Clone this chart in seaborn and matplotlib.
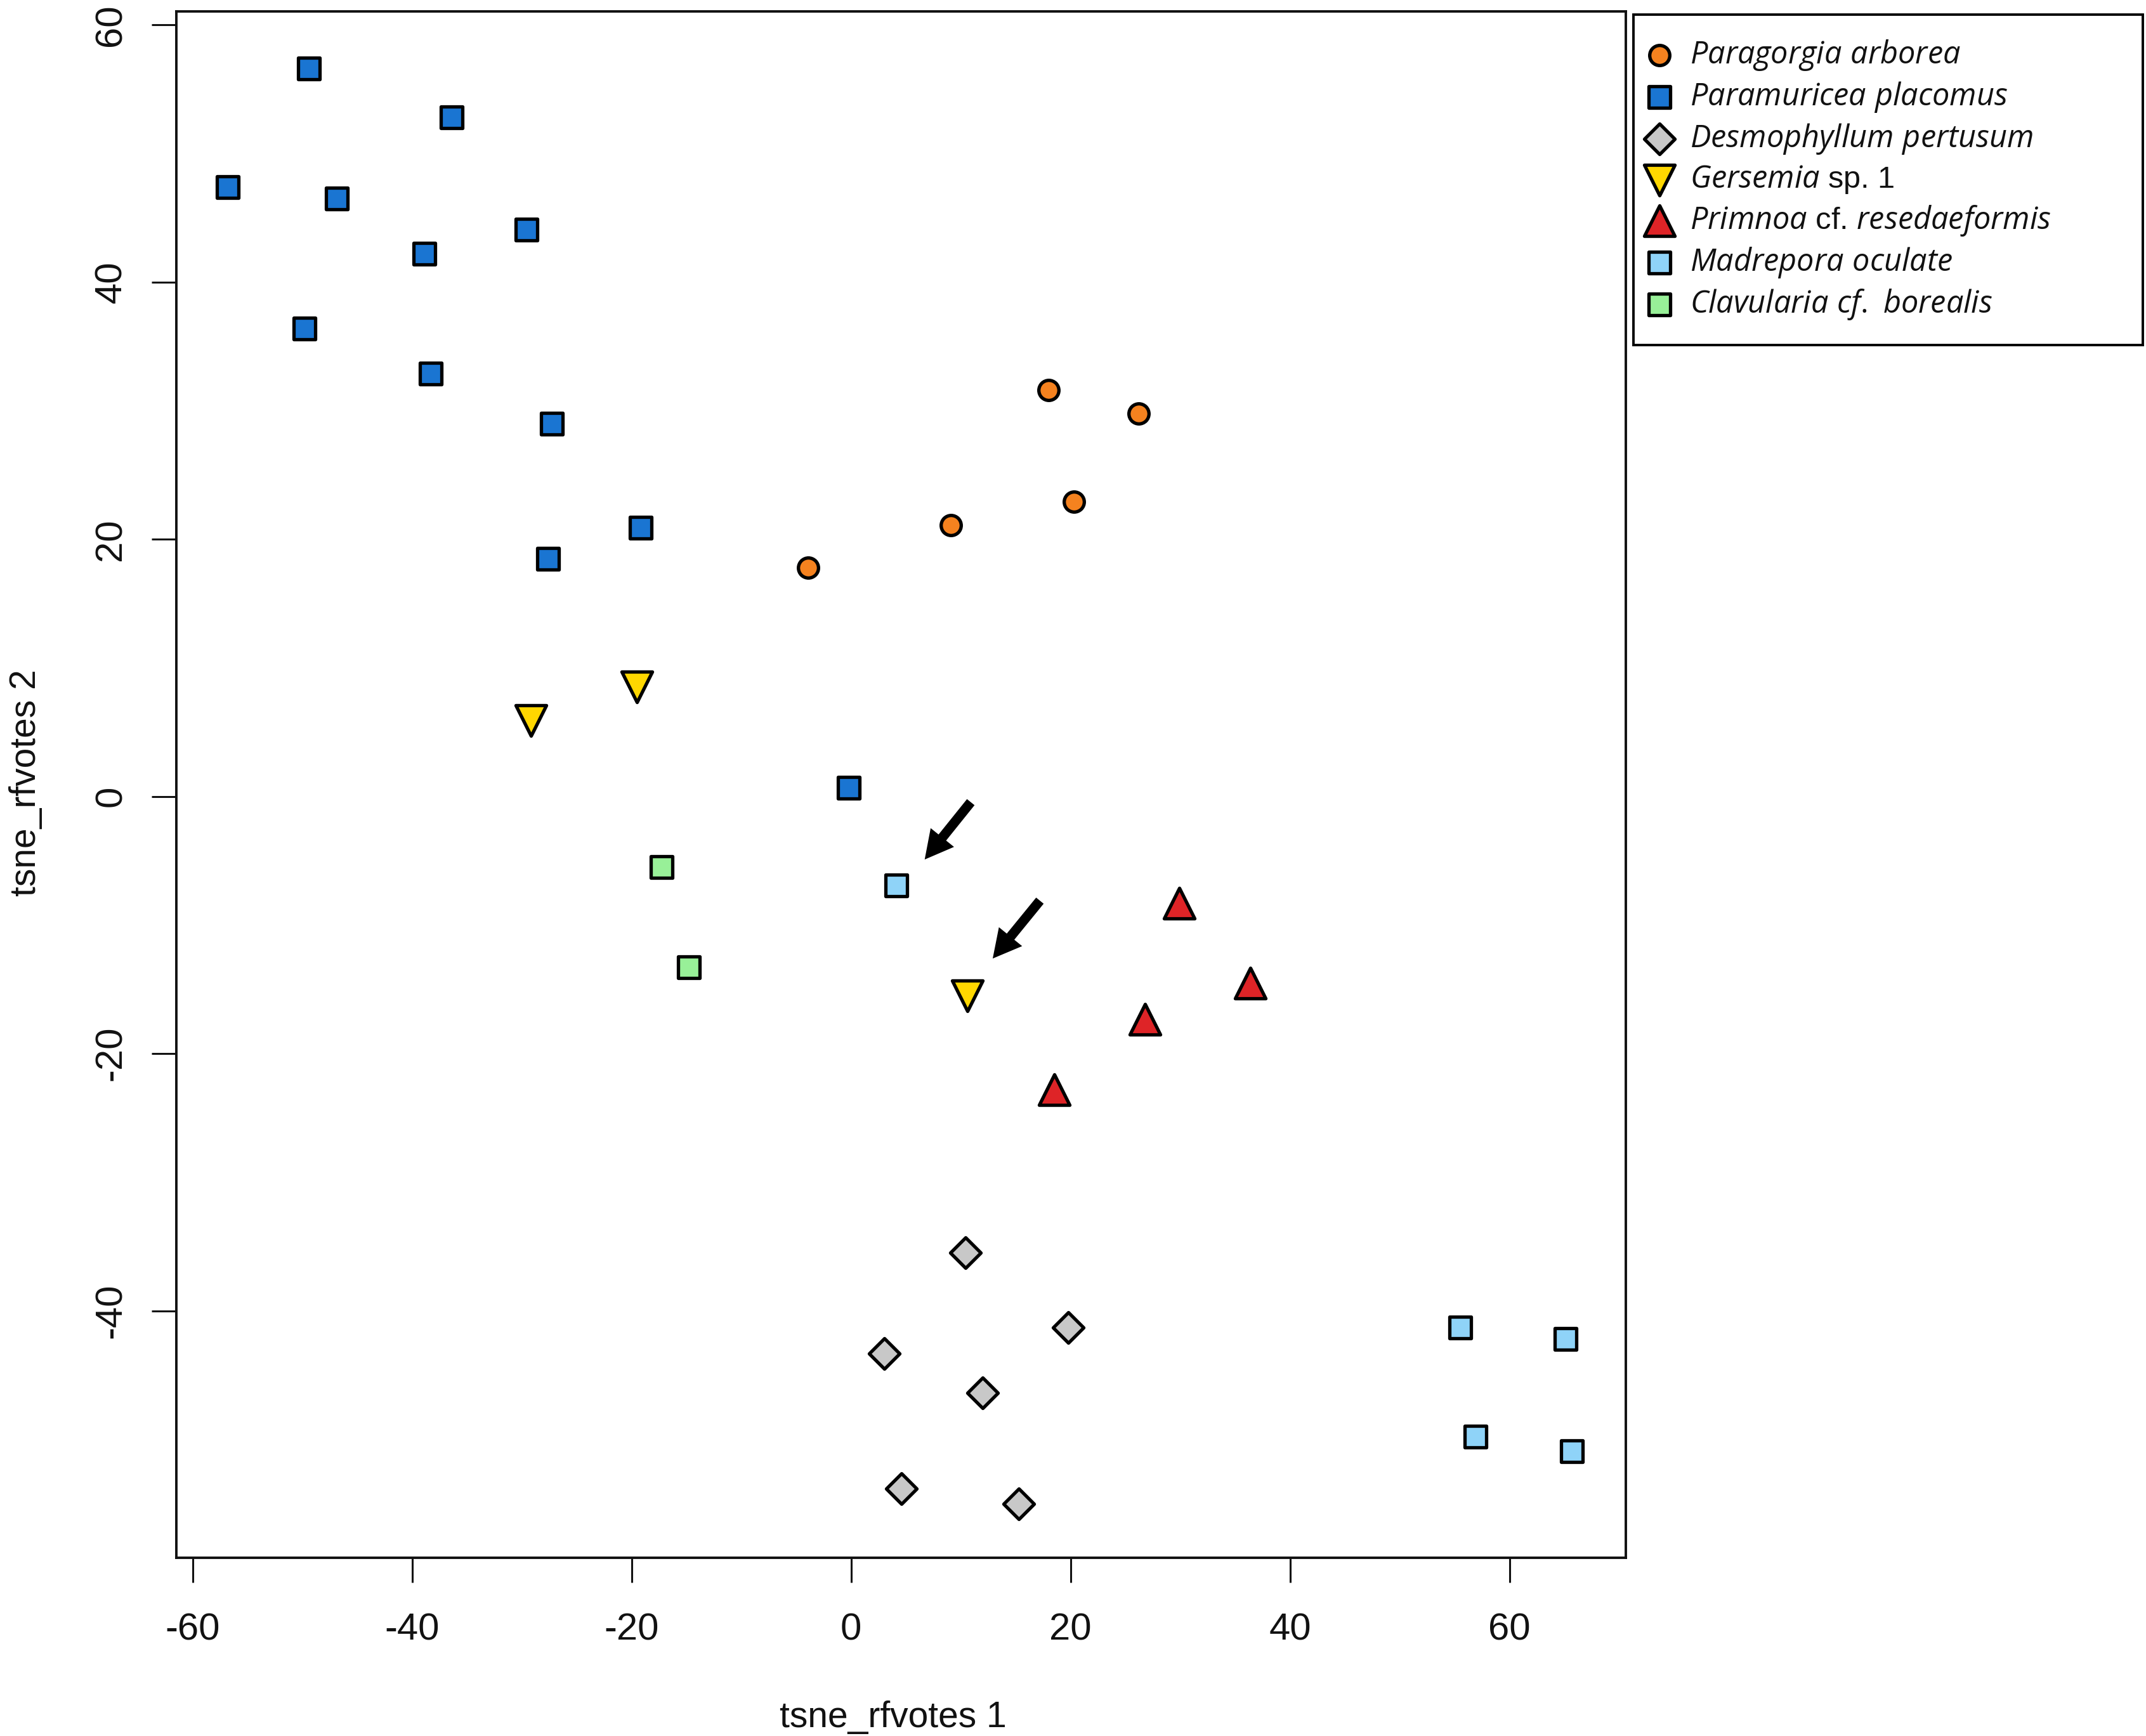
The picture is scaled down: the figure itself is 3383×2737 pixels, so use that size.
import matplotlib
matplotlib.use("Agg")
import matplotlib.pyplot as plt
import seaborn as sns

sns.set_theme(style="white")
plt.rcParams['font.family'] = ['Liberation Sans', 'DejaVu Sans']
plt.rcParams['axes.unicode_minus'] = False
plt.rcParams['mathtext.fontset'] = 'custom'
plt.rcParams['mathtext.it'] = 'Open Sans:italic'
plt.rcParams['mathtext.rm'] = 'Open Sans'

# values
paragorgia_x = [18.0, 26.2, 20.3, 9.1, -3.9]
paragorgia_y = [31.6, 29.8, 22.9, 21.1, 17.8]
paramuricea_x = [-49.4, -36.4, -56.8, -46.9, -29.6, -38.9, -49.8, -38.3, -27.3, -19.2, -27.6, -0.2]
paramuricea_y = [56.6, 52.8, 47.4, 46.5, 44.1, 42.2, 36.4, 32.9, 29.0, 20.9, 18.5, 0.7]
desmophyllum_x = [10.4, 19.8, 3.0, 12.0, 4.6, 15.3]
desmophyllum_y = [-35.5, -41.3, -43.3, -46.4, -53.8, -55.0]
gersemia_x = [-19.5, -29.2, 10.6]
gersemia_y = [8.5, 5.9, -15.5]
primnoa_x = [29.9, 36.4, 26.8, 18.5]
primnoa_y = [-8.3, -14.5, -17.3, -22.8]
madrepora_x = [4.1, 55.5, 65.1, 56.9, 65.7]
madrepora_y = [-6.9, -41.3, -42.2, -49.8, -50.9]
clavularia_x = [-17.3, -14.8]
clavularia_y = [-5.5, -13.3]

x_ticks = [-60, -40, -20, 0, 20, 40, 60]
y_ticks = [-40, -20, 0, 20, 40, 60]

arrow_tails = [(10.9, -0.44), (17.2, -8.1)]
arrow_heads = [(6.7, -4.9), (12.9, -12.6)]

W, H = 3383, 2737
fig = plt.figure(figsize=(W / 200, H / 200), dpi=200, facecolor='white')
ax = fig.add_axes([278 / W, 1 - 2456 / H, (2563 - 278) / W, (2456 - 18) / H])

groups = [
    (paragorgia_x, paragorgia_y, r'$\mathit{Paragorgia\ arborea}$', 'o', 130, '#F5821F'),
    (paramuricea_x, paramuricea_y, r'$\mathit{Paramuricea\ placomus}$', 's', 150, '#1A75D2'),
    (desmophyllum_x, desmophyllum_y, r'$\mathit{Desmophyllum\ pertusum}$', 'D', 150, '#C8C8C8'),
    (gersemia_x, gersemia_y, r'$\mathit{Gersemia}$ sp. 1', 'v', 300, '#FFD700'),
    (primnoa_x, primnoa_y, r'$\mathit{Primnoa}$ cf. $\mathit{resedaeformis}$', '^', 300, '#DE2427'),
    (madrepora_x, madrepora_y, r'$\mathit{Madrepora\ oculate}$', 's', 150, '#8FD3F8'),
    (clavularia_x, clavularia_y, r'$\mathit{Clavularia\ cf.\ borealis}$', 's', 150, '#98F098'),
]
for xs, ys, name, mark, size, col in groups:
    sns.scatterplot(x=xs, y=ys, marker=mark, s=size, color=col, edgecolor='black',
                    linewidth=1.9, label=name, ax=ax, zorder=3, clip_on=False)

for tail, head in zip(arrow_tails, arrow_heads):
    ax.annotate('', xy=head, xytext=tail,
                arrowprops=dict(facecolor='black', edgecolor='black', width=5.5, headwidth=17,
                                headlength=16, shrink=0, linewidth=0))

ax.set_xlim(-61.5, 70.6)
ax.set_ylim(-59.2, 61.05)
ax.set_xticks(x_ticks)
ax.set_yticks(y_ticks)
ax.tick_params(axis='both', length=14, width=1.1, color='#111111', labelsize=21.5,
               labelcolor='#111111', bottom=True, left=True)
ax.tick_params(axis='x', pad=17)
ax.tick_params(axis='y', pad=13)
for t in ax.get_yticklabels():
    t.set_rotation(90)
    t.set_va('center')
for s in ax.spines.values():
    s.set_linewidth(1.4)
    s.set_color('#111111')

ax.set_xlabel('tsne_rfvotes 1', fontsize=20.5, color='#111111')
ax.set_ylabel('tsne_rfvotes 2', fontsize=20.5, color='#111111')
ax.xaxis.set_label_coords((1408 - 278) / (2563 - 278), -(2681 - 2456) / (2456 - 18))
ax.yaxis.set_label_coords(-(278 - 68) / (2563 - 278), (2456 - 1234) / (2456 - 18))

leg = ax.legend(loc='upper left', bbox_to_anchor=(2575 / W, 1 - 23 / H, (3378 - 2575) / W, 0),
                bbox_transform=fig.transFigure, mode='expand', borderaxespad=0,
                frameon=True, fancybox=False, edgecolor='black', framealpha=1,
                fontsize=17.5, labelspacing=0.25, borderpad=0.76, handletextpad=0.91,
                handlelength=0.17, labelcolor='#111111')
leg.get_frame().set_linewidth(1.4)
leg._legend_box.align = 'left'

fig.savefig('out.png', dpi=200)
